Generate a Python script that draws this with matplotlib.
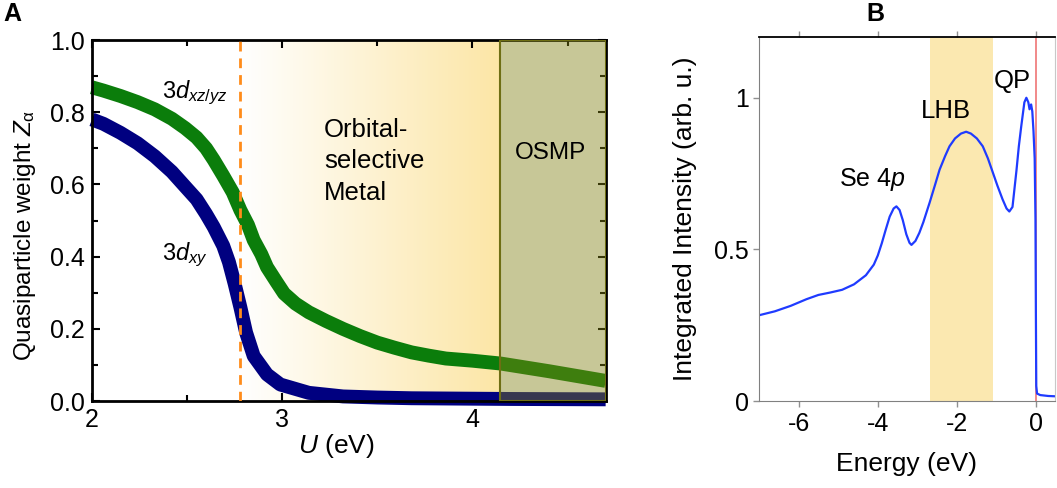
import numpy as np
import matplotlib
matplotlib.use('Agg')
import matplotlib.pyplot as plt
from matplotlib.colors import LinearSegmentedColormap

plt.rcParams['font.family'] = ['Liberation Sans', 'DejaVu Sans']
plt.rcParams['mathtext.fontset'] = 'custom'
plt.rcParams['mathtext.rm'] = 'Liberation Sans'
plt.rcParams['mathtext.it'] = 'Liberation Sans:italic'
plt.rcParams['mathtext.bf'] = 'Liberation Sans:bold'
plt.rcParams['axes.unicode_minus'] = False

# --- Panel A: quasiparticle weight vs U ---
u_xzyz = [2.00, 2.06, 2.15, 2.24, 2.33, 2.42, 2.49, 2.55, 2.60, 2.64, 2.69, 2.74,
          2.78, 2.82, 2.85, 2.89, 2.92, 2.97, 3.01, 3.07, 3.14, 3.23, 3.32, 3.41,
          3.50, 3.59, 3.68, 3.77, 3.86, 4.00, 4.15, 4.40, 4.70]
z_xzyz = [0.869, 0.860, 0.845, 0.828, 0.808, 0.782, 0.756, 0.730, 0.700, 0.668,
          0.624, 0.578, 0.529, 0.488, 0.446, 0.407, 0.371, 0.330, 0.298, 0.270,
          0.246, 0.222, 0.200, 0.180, 0.162, 0.148, 0.135, 0.126, 0.118, 0.112,
          0.104, 0.083, 0.056]
u_xy = [2.00, 2.06, 2.15, 2.24, 2.33, 2.42, 2.49, 2.55, 2.60, 2.64, 2.69, 2.72,
        2.75, 2.78, 2.81, 2.85, 2.92, 2.99, 3.14, 3.32, 3.50, 3.68, 4.20, 4.70]
z_xy = [0.780, 0.768, 0.743, 0.714, 0.678, 0.635, 0.594, 0.559, 0.518, 0.482,
        0.430, 0.385, 0.325, 0.260, 0.190, 0.125, 0.074, 0.046, 0.023, 0.013,
        0.010, 0.008, 0.006, 0.005]
u_transition = 2.78   # dashed line
u_osmp = 4.147        # start of OSMP region
u_max = 4.70

# --- Panel B: integrated intensity vs energy ---
energy = [-7.00, -6.60, -6.20, -5.80, -5.50, -5.20, -4.90, -4.60, -4.30, -4.10,
          -4.00, -3.90, -3.80, -3.70, -3.60, -3.53, -3.45, -3.37, -3.28, -3.20,
          -3.15, -3.05, -2.95, -2.85, -2.69, -2.55, -2.44, -2.30, -2.19, -2.05,
          -1.90, -1.77, -1.65, -1.50, -1.35, -1.22, -1.10, -0.98, -0.85, -0.75,
          -0.68, -0.60, -0.50, -0.44, -0.38, -0.33, -0.30, -0.25, -0.20, -0.17,
          -0.13, -0.10, -0.07, -0.04, -0.02, -0.01, 0.00, 0.02, 0.10, 0.30, 0.47]
intensity = [0.283, 0.296, 0.314, 0.336, 0.350, 0.358, 0.367, 0.385, 0.415, 0.450,
             0.480, 0.520, 0.565, 0.608, 0.635, 0.642, 0.630, 0.597, 0.550, 0.522,
             0.515, 0.528, 0.555, 0.590, 0.655, 0.715, 0.763, 0.808, 0.840, 0.866,
             0.882, 0.888, 0.882, 0.866, 0.840, 0.800, 0.755, 0.710, 0.665, 0.635,
             0.625, 0.640, 0.760, 0.840, 0.905, 0.955, 0.985, 1.000, 0.985, 0.962,
             0.978, 0.955, 0.890, 0.800, 0.600, 0.300, 0.050, 0.025, 0.020, 0.017,
             0.016]
lhb_range = (-2.69, -1.10)

fig = plt.figure(figsize=(10.57, 4.88), dpi=100)

# ---------------- Panel A ----------------
ax = fig.add_axes([0.087, 0.178, 0.486, 0.740])
ax.set_xlim(2, u_max)
ax.set_ylim(0, 1.0)

cmap = LinearSegmentedColormap.from_list('grad', ['#FFFFFF', '#FCE6A6'])
grad = np.linspace(0, 1, 256).reshape(1, -1)
ax.imshow(grad, cmap=cmap, extent=[u_transition, u_osmp, 0, 1], aspect='auto',
          zorder=0, interpolation='bicubic')

ax.plot(u_xzyz, z_xzyz, color='#0B7D0B', lw=10, solid_capstyle='butt',
        solid_joinstyle='round', zorder=2, clip_on=False)
ax.plot(u_xy, z_xy, color='#000080', lw=10, solid_capstyle='butt',
        solid_joinstyle='round', zorder=2, clip_on=False)
ax.axvline(u_transition, color='#FF8C1A', lw=2, ls=(0, (3.5, 2.5)), zorder=3)
ax.axvspan(u_osmp, u_max, facecolor=(0.5, 0.5, 0.08, 0.44),
           edgecolor='#6E6E14', lw=1.5, zorder=5)

ax.text(2.37, 0.855, r'3$\mathit{d}_{xz/yz}$', fontsize=17, va='center', ha='left')
ax.text(2.37, 0.405, r'3$\mathit{d}_{xy}$', fontsize=17, va='center', ha='left')
ax.text(3.22, 0.664, 'Orbital-\nselective\nMetal', fontsize=18.5, va='center',
        ha='left', linespacing=1.4)
ax.text(4.225, 0.686, 'OSMP', fontsize=17.5, va='center', ha='left', zorder=6)

ax.set_xticks([2, 3, 4])
ax.set_xticks([2.5, 3.5, 4.5], minor=True)
ax.set_yticks(np.arange(0, 1.01, 0.2))
ax.set_yticks(np.arange(0.1, 1.0, 0.2), minor=True)
ax.set_yticklabels(['0.0', '0.2', '0.4', '0.6', '0.8', '1.0'])
ax.tick_params(which='both', direction='in', top=True, right=True, labelsize=18,
               width=1.5)
ax.tick_params(which='major', length=6, pad=5)
ax.tick_params(which='minor', length=4)
for s in ax.spines.values():
    s.set_linewidth(2)
ax.set_xlabel(r'$U$ (eV)', fontsize=19, labelpad=4)
ax.xaxis.set_label_coords(0.475, -0.085)
ax.set_ylabel(r'Quasiparticle weight $Z_{\mathrm{α}}$', fontsize=17.5, labelpad=6)
ax.yaxis.set_label_coords(-0.105, 0.46)

fig.text(0.003, 0.995, 'A', fontsize=18, fontweight='bold', va='top', ha='left')

# ---------------- Panel B ----------------
bx = fig.add_axes([0.718, 0.178, 0.280, 0.746])
bx.set_xlim(-7.0, 0.47)
bx.set_ylim(0, 1.2)
bx.axvspan(*lhb_range, facecolor='#FBE8B0', edgecolor='none', zorder=0)
bx.axvline(0, color='#F08080', lw=1.3, zorder=1)
bx.plot(energy, intensity, color='#1F3BFF', lw=1.6, zorder=2)

bx.text(-4.13, 0.73, r'Se 4$\mathit{p}$', fontsize=18, ha='center', va='center')
bx.text(-2.27, 0.955, 'LHB', fontsize=18.5, ha='center', va='center')
bx.text(-0.6, 1.055, 'QP', fontsize=18.5, ha='center', va='center')

bx.set_xticks([-6, -4, -2, 0])
bx.set_yticks([0, 0.5, 1])
bx.set_yticklabels(['0', '0.5', '1'])
bx.tick_params(direction='out', top=True, right=False, labeltop=False,
               labelsize=18, color='#909090', length=4, width=1)
bx.spines['left'].set_color('#808080')
bx.spines['bottom'].set_color('#808080')
bx.spines['right'].set_color('#C8C8C8')
bx.spines['top'].set_color('black')
bx.spines['top'].set_linewidth(1.3)
bx.set_xlabel('Energy (eV)', fontsize=19, labelpad=12)
bx.set_ylabel('Integrated Intensity (arb. u.)', fontsize=19, labelpad=12)

fig.text(0.820, 0.995, 'B', fontsize=18, fontweight='bold', va='top', ha='left')

fig.savefig('out.png', dpi=100)
